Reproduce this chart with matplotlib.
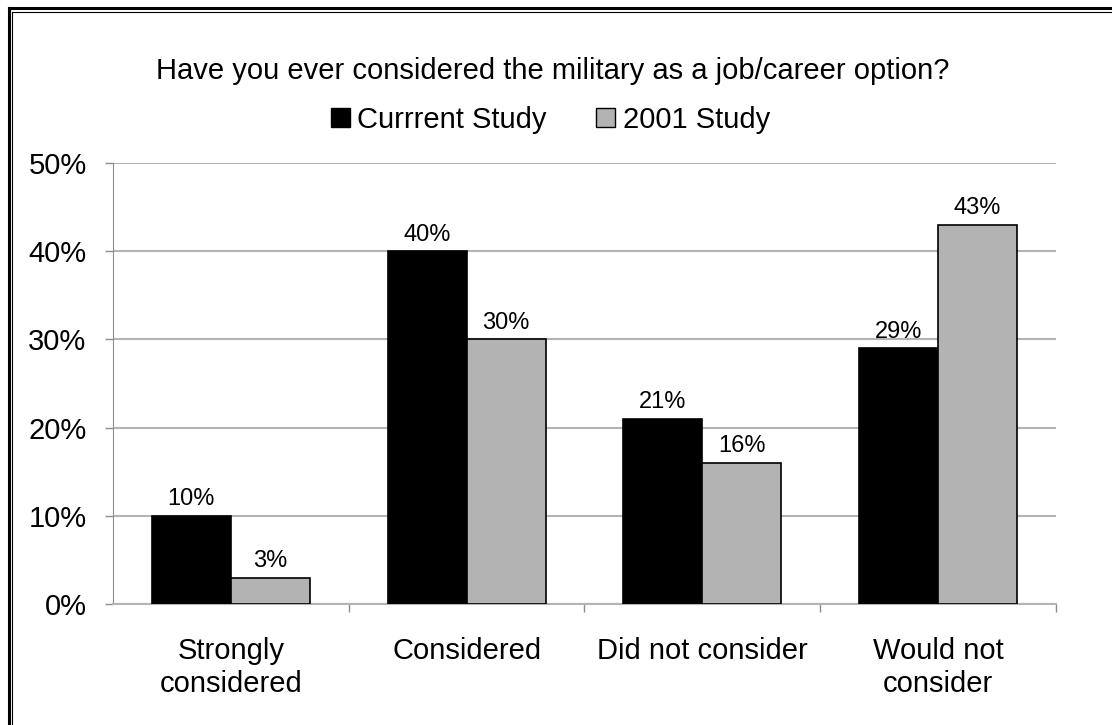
import numpy as np
import matplotlib.pyplot as plt
from matplotlib.lines import Line2D
from matplotlib.patches import Patch

plt.rcParams['font.family'] = ['Liberation Sans', 'DejaVu Sans']

categories = ['Strongly\nconsidered', 'Considered', 'Did not consider', 'Would not\nconsider']
current_study = [10, 40, 21, 29]
study_2001 = [3, 30, 16, 43]
series_names = ['Currrent Study', '2001 Study']
yticks = [0, 10, 20, 30, 40, 50]

grid_col = '#b4b4b4'
axis_col = '#8c8c8c'
fs = 21

fig = plt.figure(figsize=(11.12, 7.25), dpi=100)
ax = fig.add_axes([0.1016, 0.1669, 0.8480, 0.6083])

x = np.arange(len(categories))
w = 0.335
b1 = ax.bar(x - w / 2, current_study, w, color='black', edgecolor='black', linewidth=1.2, zorder=3)
b2 = ax.bar(x + w / 2, study_2001, w, color='#b3b3b3', edgecolor='black', linewidth=1.2, zorder=3)
for bars in (b1, b2):
    ax.bar_label(bars, labels=[f'{v}%' for v in bars.datavalues], padding=4, fontsize=17)

ax.set_xlim(-0.5, len(categories) - 0.5)
ax.set_ylim(0, 50)
ax.set_yticks(yticks)
ax.set_yticklabels([f'{t}%' for t in yticks], fontsize=fs)
ax.yaxis.grid(True, color=grid_col, linewidth=1.5, zorder=0)
ax.tick_params(axis='y', length=6, width=1, color=axis_col, pad=13)

# category labels centred, tick marks on the boundaries between groups
ax.set_xticks(x)
ax.set_xticklabels(categories, fontsize=fs, linespacing=1.2)
ax.set_xticks(np.arange(len(categories)) + 0.5, minor=True)
ax.tick_params(axis='x', which='major', length=0, pad=24)
ax.tick_params(axis='x', which='minor', length=6, width=1, color=axis_col)

for side in ('top', 'right'):
    ax.spines[side].set_visible(False)
ax.spines['left'].set_color(axis_col)
ax.spines['bottom'].set_color(grid_col)
ax.spines['bottom'].set_linewidth(1.5)

fig.text(0.497, 0.902, 'Have you ever considered the military as a job/career option?',
         ha='center', va='center', fontsize=fs)

handles = [Patch(facecolor='black', edgecolor='black'),
           Patch(facecolor='#b3b3b3', edgecolor='black')]
fig.legend(handles, series_names, loc='center', bbox_to_anchor=(0.495, 0.835), ncol=2,
           frameon=False, fontsize=fs, handlelength=0.65, handleheight=0.65,
           handletextpad=0.25, columnspacing=1.7)

# double rule along the top and left edges
fw, fh = 1112, 725
fig.add_artist(Line2D([9 / fw, 1], [1 - 8 / fh, 1 - 8 / fh], color='black', lw=2.2))
fig.add_artist(Line2D([9 / fw, 9 / fw], [0, 1 - 8 / fh], color='black', lw=2.2))
fig.add_artist(Line2D([12 / fw, 1], [1 - 11.5 / fh, 1 - 11.5 / fh], color='black', lw=0.8))
fig.add_artist(Line2D([12 / fw, 12 / fw], [0, 1 - 11.5 / fh], color='black', lw=0.8))

fig.savefig('out.png', dpi=100)
